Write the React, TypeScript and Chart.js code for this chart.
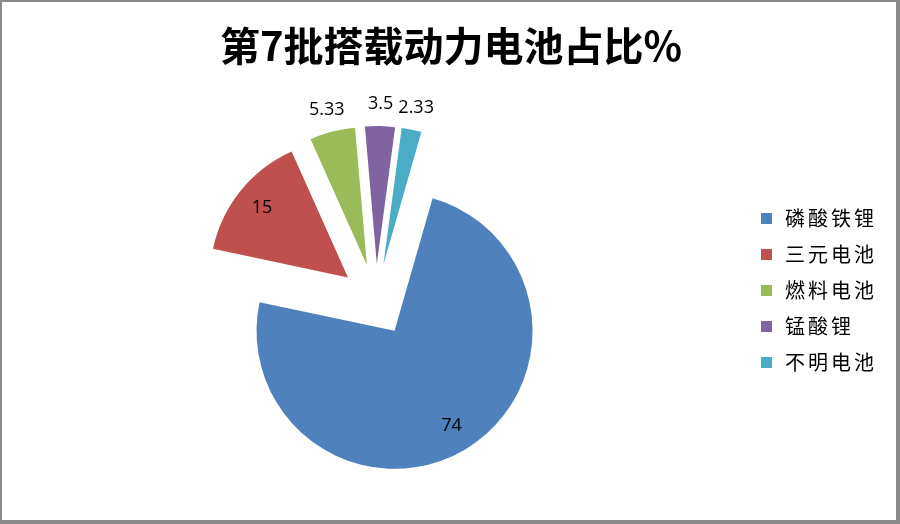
import { useEffect, useRef } from 'react'
import { Chart, registerables } from 'chart.js'

Chart.register(...registerables)

const TITLE = '第7批搭载动力电池占比%'
const LABELS = ['磷酸铁锂', '三元电池', '燃料电池', '锰酸锂', '不明电池']
const VALUES = [74, 15, 5.33, 3.5, 2.33]
const COLORS = ['#4F81BD', '#C0504D', '#9BBB59', '#8064A2', '#4BACC6']

// every slice is pulled out of the centre by the same distance (Excel "explosion")
const EXPLODE = 36
const PIE_RADIUS = 138

const explodePlugin = {
  id: 'explodeSlices',
  afterDatasetsUpdate(chart: any) {
    const meta = chart.getDatasetMeta(0)
    meta.data.forEach((arc: any) => {
      const mid = (arc.startAngle + arc.endAngle) / 2
      arc.x += Math.cos(mid) * EXPLODE
      arc.y += Math.sin(mid) * EXPLODE
    })
  },
}

const valueLabelPlugin = {
  id: 'valueLabels',
  afterDatasetsDraw(chart: any) {
    const { ctx } = chart
    const meta = chart.getDatasetMeta(0)
    const total = VALUES.reduce((s, v) => s + v, 0)
    ctx.save()
    ctx.font = '18px "Open Sans", sans-serif'
    ctx.fillStyle = '#000'
    ctx.textAlign = 'center'
    ctx.textBaseline = 'middle'
    meta.data.forEach((arc: any, i: number) => {
      const mid = (arc.startAngle + arc.endAngle) / 2
      const inside = VALUES[i] / total > 0.1
      const dist = arc.outerRadius * (inside ? 0.8 : 1.16)
      ctx.fillText(String(VALUES[i]), arc.x + Math.cos(mid) * dist, arc.y + Math.sin(mid) * dist)
    })
    ctx.restore()
  },
}

export default function App() {
  const canvasRef = useRef<HTMLCanvasElement>(null)

  useEffect(() => {
    if (!canvasRef.current) return
    const chart = new Chart(canvasRef.current, {
      type: 'pie',
      data: {
        labels: LABELS,
        datasets: [
          {
            data: VALUES,
            backgroundColor: COLORS,
            borderWidth: 0,
          },
        ],
      },
      options: {
        animation: false,
        responsive: true,
        maintainAspectRatio: false,
        events: [],
        rotation: 16,
        radius: PIE_RADIUS,
        layout: { padding: { left: 0, right: 148, top: 76, bottom: 0 } },
        plugins: {
          legend: { display: false },
          title: { display: false },
          tooltip: { enabled: false },
        },
      } as any,
      plugins: [explodePlugin, valueLabelPlugin],
    })
    return () => chart.destroy()
  }, [])

  return (
    <div style={{ position: 'absolute', left: 0, top: 0, width: 900, height: 524, background: '#fff' }}>
      <div style={{ position: 'absolute', left: 0, top: 0, width: 900, height: 524 }}>
        <canvas ref={canvasRef}></canvas>
      </div>
      <div
        style={{
          position: 'absolute',
          left: 0,
          top: 18,
          width: 902,
          textAlign: 'center',
          font: 'bold 40px "Noto Sans CJK SC", sans-serif',
          lineHeight: '52px',
          color: '#000',
        }}
      >
        {TITLE}
      </div>
      <div style={{ position: 'absolute', left: 761, top: 200 }}>
        {LABELS.map((label, i) => (
          <div key={label} style={{ display: 'flex', alignItems: 'center', height: 36 }}>
            <span style={{ width: 11, height: 11, background: COLORS[i], display: 'inline-block' }}></span>
            <span
              style={{
                marginLeft: 13,
                font: '20px "Noto Sans CJK SC", sans-serif',
                letterSpacing: 3,
                color: '#000',
                lineHeight: '36px',
              }}
            >
              {label}
            </span>
          </div>
        ))}
      </div>
      <div
        style={{
          position: 'absolute',
          left: 0,
          top: 0,
          width: 900,
          height: 524,
          boxSizing: 'border-box',
          borderTop: '2px solid #8a8a8a',
          borderLeft: '2px solid #8a8a8a',
          borderRight: '4px solid #8a8a8a',
          borderBottom: '4px solid #8a8a8a',
          pointerEvents: 'none',
        }}
      ></div>
    </div>
  )
}
